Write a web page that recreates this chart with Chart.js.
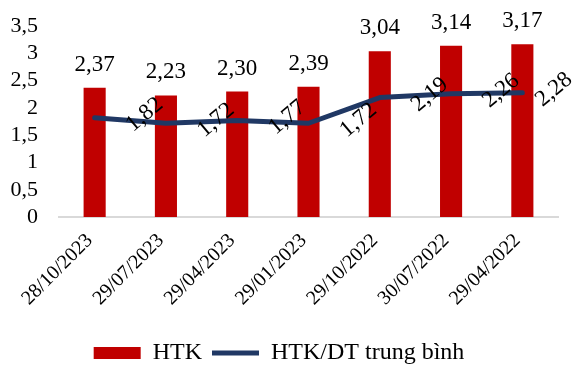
<!DOCTYPE html>
<html>
<head>
<meta charset="utf-8">
<script src="https://cdn.jsdelivr.net/npm/chart.js@4/dist/chart.umd.min.js"></script>
<style>
  html, body { margin: 0; padding: 0; background: #fff; }
  #wrap { width: 574px; height: 367px; }
</style>
</head>
<body>
<div id="wrap"><canvas id="chart" width="574" height="367"></canvas></div>
<script>
var dates = ["28/10/2023", "29/07/2023", "29/04/2023", "29/01/2023", "29/10/2022", "30/07/2022", "29/04/2022"]
var htk = [2.37, 2.23, 2.30, 2.39, 3.04, 3.14, 3.17]
var htkDt = [1.82, 1.72, 1.77, 1.72, 2.19, 2.26, 2.28]
var yTicks = [0, 0.5, 1, 1.5, 2, 2.5, 3, 3.5]

var serif = "Liberation Serif"

function vn(v, digits) {
  return v.toFixed(digits).replace(".", ",")
}

// labels above the bars and slanted labels beside the line points
var valueLabels = {
  id: "valueLabels",
  afterDatasetsDraw: function (chart) {
    var ctx = chart.ctx
    ctx.save()
    ctx.fillStyle = "#000"
    ctx.font = "23px " + serif
    ctx.textAlign = "center"
    ctx.textBaseline = "alphabetic"
    chart.getDatasetMeta(0).data.forEach(function (bar, i) {
      ctx.fillText(vn(htk[i], 2), bar.x, bar.y - 17)
    })
    chart.getDatasetMeta(1).data.forEach(function (pt, i) {
      var x = Math.min(pt.x + 50, chart.width - 20)
      ctx.save()
      ctx.translate(x, pt.y - 3)
      ctx.rotate(-40 * Math.PI / 180)
      ctx.textBaseline = "middle"
      ctx.fillText(vn(htkDt[i], 2), 0, 0)
      ctx.restore()
    })
    ctx.restore()
  }
}

Chart.defaults.font.family = serif
Chart.defaults.color = "#000"

new Chart(document.getElementById("chart"), {
  type: "bar",
  data: {
    labels: dates,
    datasets: [
      {
        label: "HTK",
        data: htk,
        backgroundColor: "#C00000",
        barPercentage: 0.31,
        categoryPercentage: 1,
        pointStyle: "rect",
        order: 2
      },
      {
        type: "line",
        label: "HTK/DT trung bình",
        data: htkDt,
        borderColor: "#203864",
        backgroundColor: "#203864",
        borderWidth: 5,
        borderCapStyle: "round",
        borderJoinStyle: "round",
        pointRadius: 0,
        pointStyle: "line",
        tension: 0,
        order: 1
      }
    ]
  },
  options: {
    responsive: false,
    animation: false,
    layout: { padding: { left: 0, right: 16, top: 0, bottom: -8 } },
    plugins: {
      tooltip: { enabled: false },
      legend: {
        position: "bottom",
        labels: {
          usePointStyle: true,
          pointStyleWidth: 47,
          boxHeight: 12,
          padding: 10,
          font: { size: 24, family: serif },
          sort: function (a, b) { return a.datasetIndex - b.datasetIndex }
        }
      }
    },
    scales: {
      x: {
        grid: { display: false },
        border: { display: true, color: "#d9d9d9", width: 2 },
        afterFit: function (axis) { axis.height = 114 },
        ticks: {
          maxRotation: 45,
          minRotation: 45,
          padding: 4,
          labelOffset: -5,
          font: { size: 20, family: serif }
        }
      },
      y: {
        min: 0,
        max: 3.5,
        afterBuildTicks: function (axis) {
          axis.ticks = yTicks.map(function (v) { return { value: v } })
        },
        afterFit: function (axis) { axis.width = 59 },
        grid: { display: false },
        border: { display: false },
        ticks: {
          autoSkip: false,
          padding: 13,
          font: { size: 22, family: serif },
          callback: function (v) { return String(v).replace(".", ",") }
        }
      }
    }
  },
  plugins: [valueLabels]
})
</script>
</body>
</html>
